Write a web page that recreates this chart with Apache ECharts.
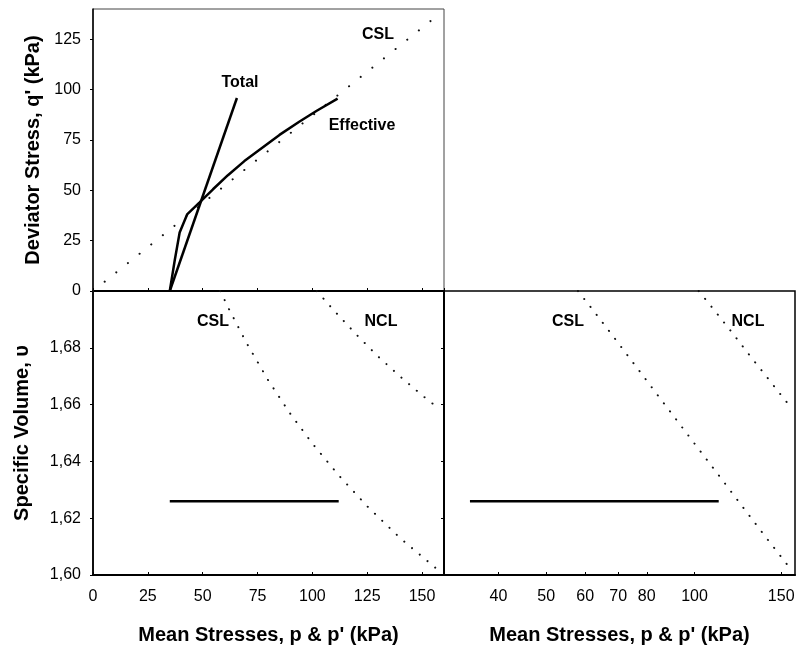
<!DOCTYPE html>
<html>
<head>
<meta charset="utf-8">
<script src="https://cdn.jsdelivr.net/npm/echarts@6/dist/echarts.min.js"></script>
<style>
  html, body { margin: 0; padding: 0; background: #fff; }
  #chart { width: 802px; height: 648px; }
</style>
</head>
<body>
<div id="chart"></div>
<script>
// Stress paths in q–p' space (kPa)
const totalP = [35, 65.6];
const totalQ = [0, 95.8];
const effP = [35, 37.3, 39.5, 42.9, 48.6, 54.7, 61.5, 69, 77, 85, 94, 102, 111.5];
const effQ = [0, 15.5, 29, 38, 44, 50.5, 57.5, 64.5, 71, 77.5, 84, 89.5, 95.5];
// Critical state line in q–p' space
const cslQP = [0, 155];
const cslQQ = [0, 135];

// Specific volume during the undrained test
const testP = [35, 112];
const testV = [1.626, 1.626];
// Critical state line and normal compression line in v–p' space
const cslP = [58, 62, 70, 80, 90, 100, 112, 125, 140, 156];
const cslV = [1.700, 1.6936, 1.6817, 1.6684, 1.6567, 1.6463, 1.6351, 1.6242, 1.6130, 1.6026];
const nclP = [102, 110, 120, 130, 140, 150, 157];
const nclV = [1.700, 1.6930, 1.6847, 1.6769, 1.6699, 1.6633, 1.6590];

// Tick values for the logarithmic stress axis
const logTicks = [40, 50, 60, 70, 80, 100, 150];

const FONT = "'Liberation Sans', Arial, sans-serif";
const zip = (xs, ys) => xs.map((x, i) => [x, ys[i]]);

const solid = { color: '#000', width: 2.5 };
const dotted = { color: '#111', width: 2, type: [0.1, 10], cap: 'round' };
const dottedWide = { color: '#111', width: 2, type: [0.1, 14.8], cap: 'round' };

const tickLabel = { color: '#000', fontSize: 16, fontFamily: FONT };
const titleStyle = { color: '#000', fontSize: 20, fontWeight: 'bold', fontFamily: FONT };
const axisLine = { show: true, lineStyle: { color: '#000', width: 2 } };

function lineSeries(name, xi, yi, data, style) {
  return {
    name, type: 'line', xAxisIndex: xi, yAxisIndex: yi, data,
    showSymbol: false, symbol: 'none', lineStyle: style, silent: true,
    animation: false, clip: true
  };
}

function note(text, x, y) {
  return {
    type: 'text', x, y,
    style: {
      text, fill: '#000', font: 'bold 16px ' + FONT,
      align: 'center', verticalAlign: 'middle'
    }
  };
}

const chart = echarts.init(document.getElementById('chart'), null, { renderer: 'canvas' });

chart.setOption({
  backgroundColor: '#fff',
  animation: false,
  grid: [
    { left: 93, top: 9, width: 351, height: 282, show: true, borderColor: '#444', borderWidth: 1, backgroundColor: 'transparent' },
    { left: 93, top: 291, width: 351, height: 284, show: true, borderColor: '#000', borderWidth: 1.5, backgroundColor: 'transparent' },
    { left: 444, top: 291, width: 351, height: 284, show: true, borderColor: '#000', borderWidth: 1.5, backgroundColor: 'transparent' }
  ],
  xAxis: [
    {
      gridIndex: 0, type: 'value', min: 0, max: 160, interval: 25,
      axisLine, axisTick: { show: true, inside: true, length: 3, lineStyle: { color: '#000' } },
      axisLabel: { show: false }, splitLine: { show: false }
    },
    {
      gridIndex: 1, type: 'value', min: 0, max: 160, interval: 25,
      axisLine, axisTick: { show: true, inside: true, length: 3, lineStyle: { color: '#000' } },
      axisLabel: Object.assign({ margin: 14, showMaxLabel: false }, tickLabel),
      splitLine: { show: false },
      name: "Mean Stresses, p & p' (kPa)", nameLocation: 'middle', nameGap: 50,
      nameTextStyle: titleStyle
    },
    {
      gridIndex: 2, type: 'log', logBase: 10, min: 31, max: 160,
      axisLine,
      axisTick: { show: true, inside: true, length: 3, customValues: logTicks, lineStyle: { color: '#000' } },
      axisLabel: Object.assign({ margin: 14, customValues: logTicks }, tickLabel),
      minorTick: { show: false },
      splitLine: { show: false },
      name: "Mean Stresses, p & p' (kPa)", nameLocation: 'middle', nameGap: 50,
      nameTextStyle: titleStyle
    }
  ],
  yAxis: [
    {
      gridIndex: 0, type: 'value', min: 0, max: 140, interval: 25,
      axisLine: { show: true, lineStyle: { color: '#000', width: 1.5 } },
      axisTick: { show: true, length: 3, lineStyle: { color: '#000' } },
      axisLabel: Object.assign({ margin: 12, showMaxLabel: false }, tickLabel),
      splitLine: { show: false },
      name: "Deviator Stress, q' (kPa)", nameLocation: 'middle', nameGap: 50,
      nameTextStyle: titleStyle
    },
    {
      gridIndex: 1, type: 'value', min: 1.6, max: 1.7, interval: 0.02,
      axisLine: { show: true, lineStyle: { color: '#000', width: 1.5 } },
      axisTick: { show: true, length: 3, lineStyle: { color: '#000' } },
      axisLabel: Object.assign({
        margin: 12, showMaxLabel: false,
        formatter: v => v.toFixed(2).replace('.', ',')
      }, tickLabel),
      splitLine: { show: false },
      name: 'Specific Volume, \u03c5', nameLocation: 'middle', nameGap: 61,
      nameTextStyle: titleStyle
    },
    {
      gridIndex: 2, type: 'value', min: 1.6, max: 1.7, interval: 0.02,
      axisLine: { show: true, lineStyle: { color: '#000', width: 2 } },
      axisTick: { show: true, length: 3, lineStyle: { color: '#000' } },
      axisLabel: { show: false },
      splitLine: { show: false }
    }
  ],
  series: [
    lineSeries('CSL (q–p)', 0, 0, zip(cslQP, cslQQ), dottedWide),
    lineSeries('Total', 0, 0, zip(totalP, totalQ), solid),
    lineSeries('Effective', 0, 0, zip(effP, effQ), solid),

    lineSeries('CSL (v–p)', 1, 1, zip(cslP, cslV), dotted),
    lineSeries('NCL (v–p)', 1, 1, zip(nclP, nclV), dotted),
    lineSeries('Test (v–p)', 1, 1, zip(testP, testV), solid),

    lineSeries('CSL (v–ln p)', 2, 2, zip(cslP, cslV), dotted),
    lineSeries('NCL (v–ln p)', 2, 2, zip(nclP, nclV), dotted),
    lineSeries('Test (v–ln p)', 2, 2, zip(testP, testV), solid)
  ],
  graphic: [
    note('CSL', 378, 35),
    note('Total', 240, 83),
    note('Effective', 362, 126),
    note('CSL', 213, 322),
    note('NCL', 381, 322),
    note('CSL', 568, 322),
    note('NCL', 748, 322)
  ]
});
</script>
</body>
</html>
